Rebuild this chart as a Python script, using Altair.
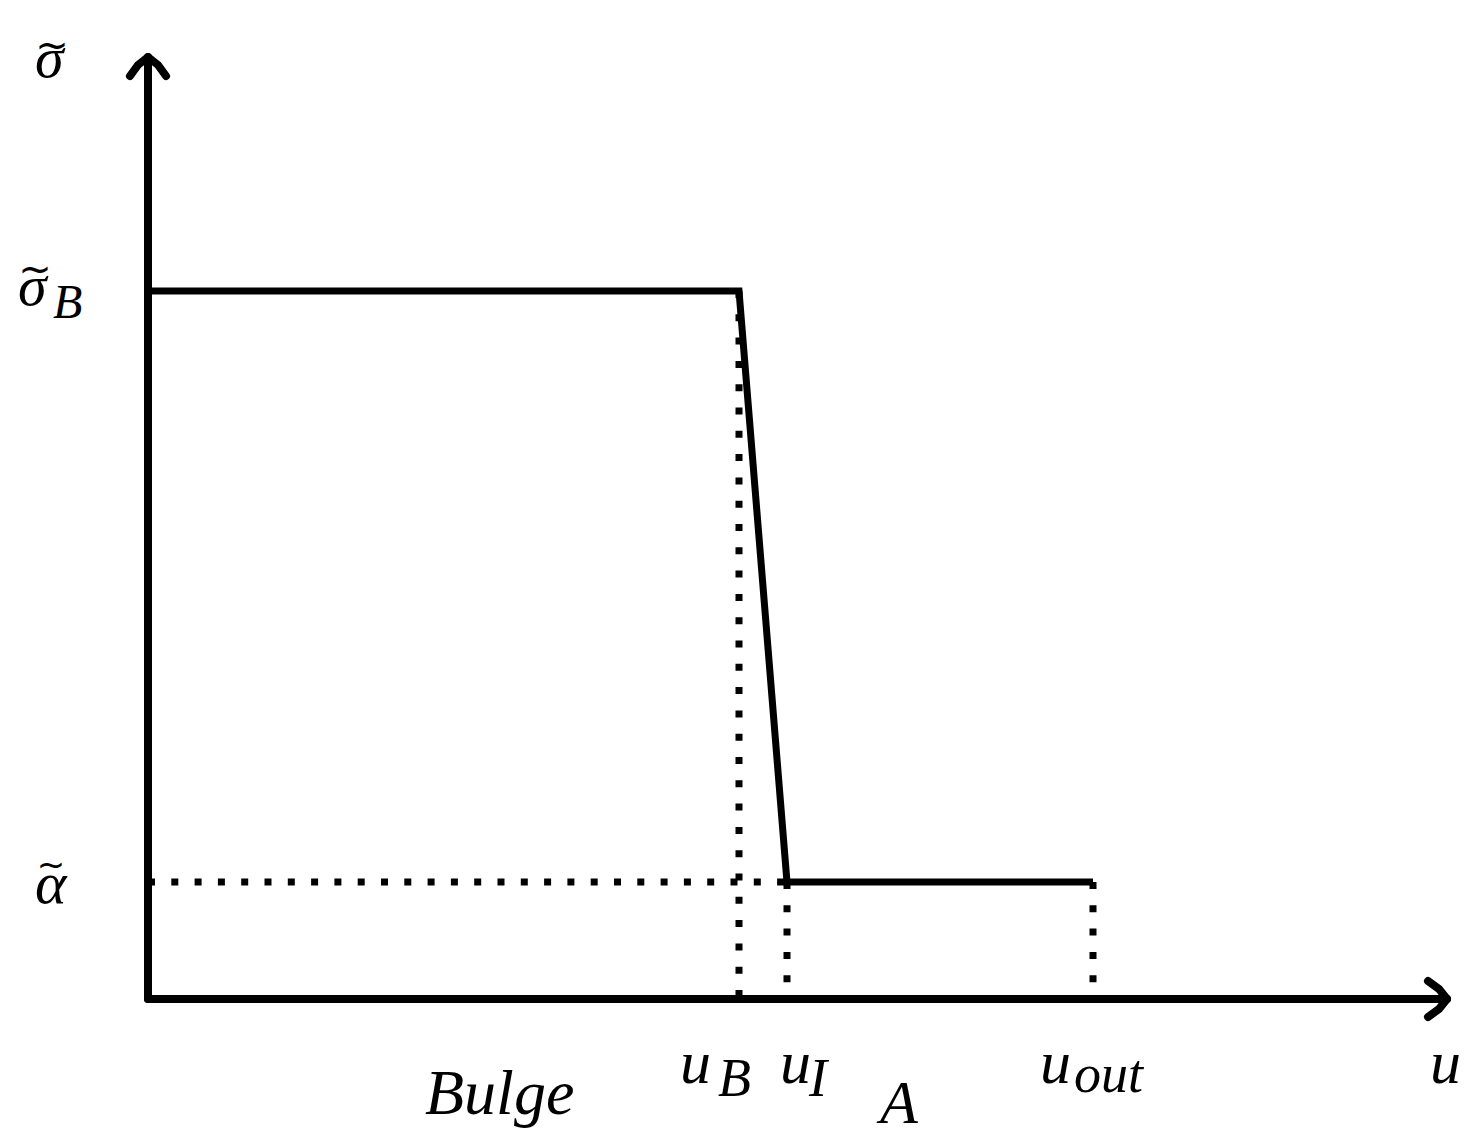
import altair as alt
import pandas as pd

# Key positions (schematic units; origin at the axes' crossing)
u_B, u_I, u_out = 591, 639, 945
u_end = 1299          # end of the u axis (arrow tip)
s_end = 942           # end of the sigma axis (arrow tip)
sigma_B = 708         # plateau level of the bulge
alpha = 117           # outer plateau level

# profile of sigma(u)
prof_x = [0, u_B, u_I, u_out]
prof_y = [sigma_B, sigma_B, alpha, alpha]

FONT = "Liberation Serif"

# chart geometry
W, H = 1462, 1127
xdom = [-140, W - 140]
ydom = [991 - H, 991]
xs = alt.Scale(domain=xdom, nice=False, zero=False)
ys = alt.Scale(domain=ydom, nice=False, zero=False)

def X(f="x"):
    return alt.X(f"{f}:Q", scale=xs, axis=None)

def Y(f="y"):
    return alt.Y(f"{f}:Q", scale=ys, axis=None)

# axes with arrowheads
axes_rows = []
for i, (x, y) in enumerate([(0, 0), (u_end, 0)]):
    axes_rows.append({"g": "xa", "o": i, "x": x, "y": y})
for i, (x, y) in enumerate([(0, 0), (0, s_end)]):
    axes_rows.append({"g": "ya", "o": i, "x": x, "y": y})
# arrowheads (chevrons)
head_back = [19, 8, 0, 8, 19]
head_side = [-18, -10, 0, 10, 18]
for i, (b, s) in enumerate(zip(head_back, head_side)):
    axes_rows.append({"g": "xh", "o": i, "x": u_end - b, "y": s})
    axes_rows.append({"g": "yh", "o": i, "x": s, "y": s_end - b})
axes_df = pd.DataFrame(axes_rows)

axes = alt.Chart(axes_df).mark_line(
    color="black", strokeWidth=8, strokeCap="round", strokeJoin="round"
).encode(x=X(), y=Y(), detail="g:N", order="o:Q")

prof_df = pd.DataFrame({"x": prof_x, "y": prof_y, "o": range(4)})
profile = alt.Chart(prof_df).mark_line(
    color="black", strokeWidth=7, strokeJoin="miter"
).encode(x=X(), y=Y(), order="o:Q")

dot_rows = [
    {"g": "vB", "o": 0, "x": u_B, "y": sigma_B}, {"g": "vB", "o": 1, "x": u_B, "y": 0},
    {"g": "hA", "o": 0, "x": 0, "y": alpha}, {"g": "hA", "o": 1, "x": u_I, "y": alpha},
    {"g": "vI", "o": 0, "x": u_I, "y": alpha}, {"g": "vI", "o": 1, "x": u_I, "y": 0},
    {"g": "vO", "o": 0, "x": u_out, "y": alpha}, {"g": "vO", "o": 1, "x": u_out, "y": 0},
]
dots = alt.Chart(pd.DataFrame(dot_rows)).mark_line(
    color="black", strokeWidth=7, strokeDash=[7, 16.3], strokeCap="butt"
).encode(x=X(), y=Y(), detail="g:N", order="o:Q")

# labels: text, left x, baseline y, font size
lab_text = ["σ", "σ", "B", "α", "u", "u", "B", "u", "I", "u", "out", "A", "Bulge"]
lab_x = [-113, -130, -95, -113, 1282, 532, 570, 632, 661, 892, 926, 732, 277]
lab_y = [922, 694, 681, 96, -84, -84, -97, -84, -97, -84, -93, -124, -115]
lab_fs = [58, 58, 48, 60, 62, 62, 54, 62, 54, 62, 54, 62, 64]
lab_df = pd.DataFrame({"t": lab_text, "x": lab_x, "y": lab_y, "fs": lab_fs})
labels = alt.Chart(lab_df).mark_text(
    font=FONT, fontStyle="italic", align="left", baseline="alphabetic", color="black"
).encode(x=X(), y=Y(), text="t:N", size=alt.Size("fs:Q", scale=None, legend=None))

# tilde accents over sigma / alpha (centre x, baseline y, size)
til_x = [-96, -113, -97]
til_y = [940, 716, 123]
til_fs = [40, 40, 34]
til_df = pd.DataFrame({"t": ["~"] * 3, "x": til_x, "y": til_y, "fs": til_fs})
tildes = alt.Chart(til_df).mark_text(
    font="DejaVu Sans", align="center", baseline="alphabetic", color="black"
).encode(x=X(), y=Y(), text="t:N", size=alt.Size("fs:Q", scale=None, legend=None))

chart = alt.layer(dots, profile, axes, labels, tildes).properties(
    width=W, height=H, padding=0, background="white",
    autosize=alt.AutoSizeParams(type="none")
).configure_view(stroke=None)

chart.save("out.html", embed_options={"renderer": "svg", "actions": False})
